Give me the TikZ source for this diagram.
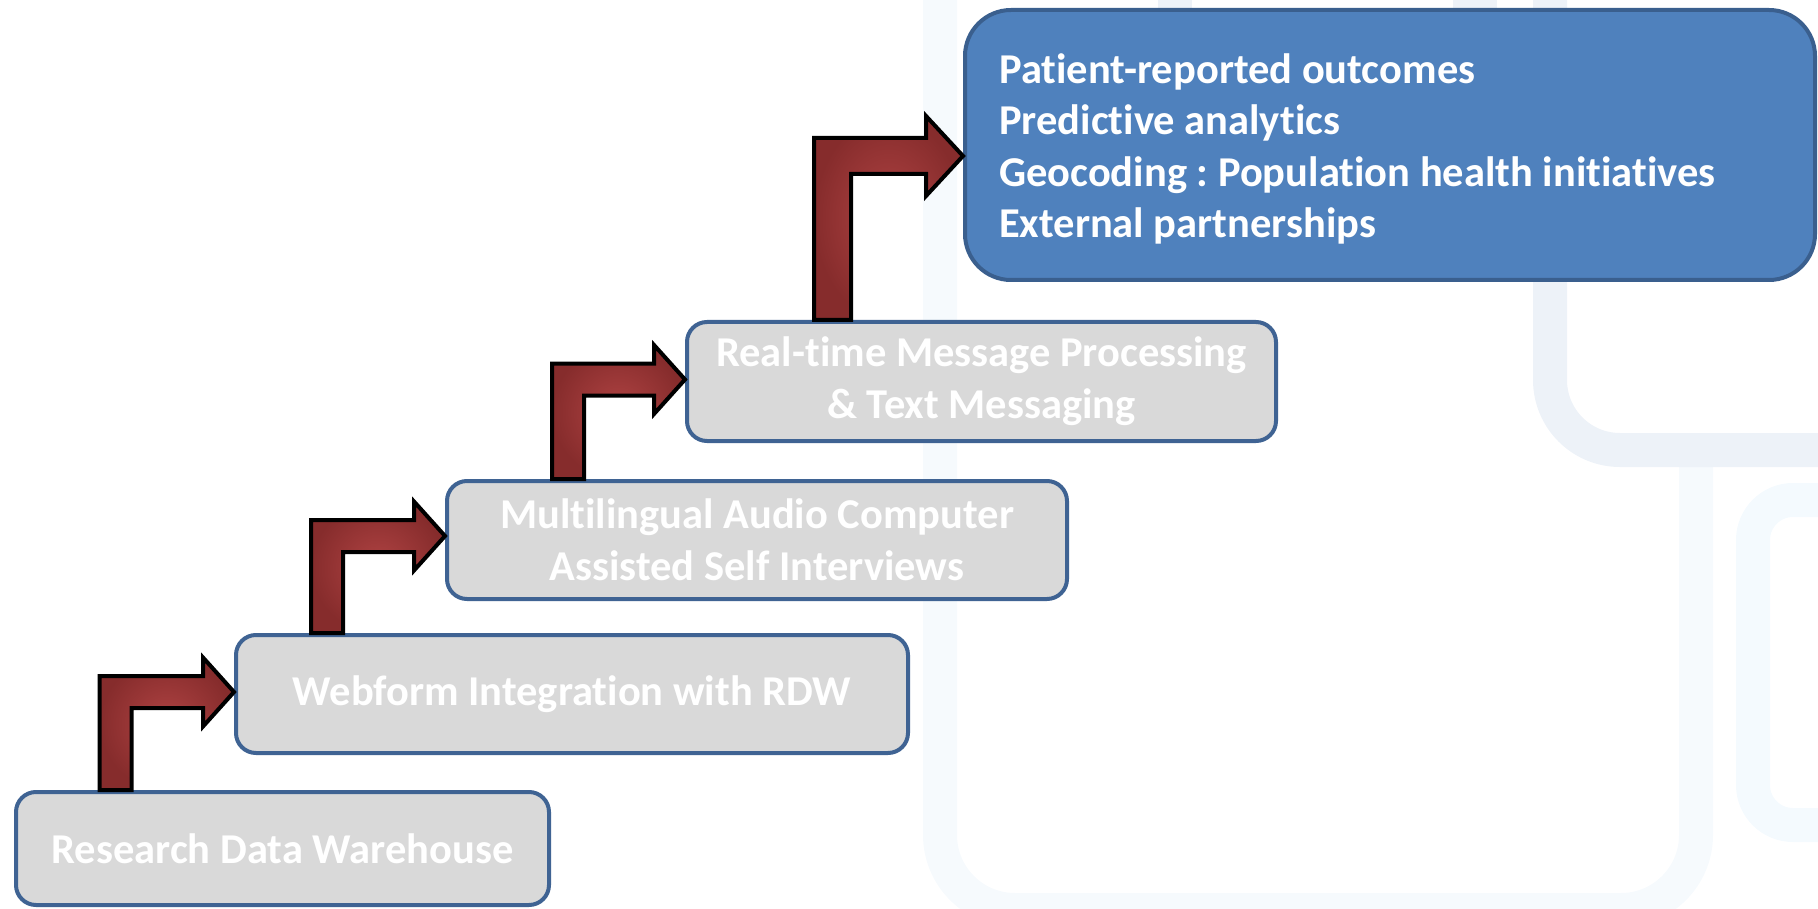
\documentclass[tikz,border=0pt]{standalone}
\usepackage{fontspec}
\setmainfont{Carlito}[Ligatures=NoCommon]
\usetikzlibrary{calc}
\frenchspacing

\definecolor{boxgray}{HTML}{D9D9D9}
\definecolor{boxedge}{HTML}{3F6393}
\definecolor{goalfill}{HTML}{4F81BD}
\definecolor{goaledge}{HTML}{3A5F8E}
\definecolor{arrowlight}{HTML}{B04343}
\definecolor{arrowdark}{HTML}{862C2C}
\definecolor{markA}{HTML}{F6FAFD}
\definecolor{markB}{HTML}{EDF2F8}
\definecolor{markC}{HTML}{F4FAFE}

\tikzset{
  stage/.style={draw=boxedge, fill=boxgray, line width=4pt, rounded corners=20pt,
    text=white, font=\fontsize{42.5}{52}\selectfont\bfseries, align=center, inner sep=0pt},
  goal/.style={draw=goaledge, fill=goalfill, line width=4pt, rounded corners=46pt},
  goaltext/.style={text=white, font=\fontsize{42.5}{51.5}\selectfont\bfseries,
    align=left, inner sep=0pt, anchor=west},
  stairarrow/.style={draw=black, line width=4pt, line join=miter, shade,
    shading=radial, inner color=arrowlight, outer color=arrowdark},
  watermark/.style={line width=34pt, rounded corners=75pt},
}

% bent arrow: #1 shaft foot (left edge), #2 tip, #3 shaft width,
% #4 half bar thickness, #5 half head height, #6 head length
\newcommand{\stairs}[6]{%
  \path[stairarrow] let \p1=(#1), \p2=(#2) in
    (\x1,\y1) -- (\x1,\y2+#4) -- (\x2-#6,\y2+#4) -- (\x2-#6,\y2+#5) -- (\x2,\y2)
    -- (\x2-#6,\y2-#5) -- (\x2-#6,\y2-#4) -- (\x1+#3,\y2-#4) -- (\x1+#3,\y1) -- cycle;
}

\begin{document}
\begin{tikzpicture}[x=1pt, y=-1pt]
  \useasboundingbox (0,0) rectangle (1818,909);

  % faint rounded frames in the background
  \draw[watermark, markA] (1696,467) -- (1696,910) -- (940,910) -- (940,-60);
  \draw[watermark, markB, rounded corners=70pt] (1550,-60) -- (1550,450) -- (1900,450);
  \draw[watermark, markC, rounded corners=40pt] (1900,500) -- (1753,500) -- (1753,825) -- (1900,825);
  \draw[markB, line width=34pt] (1175,-5) -- (1175,40);
  \draw[markB, line width=44pt] (1475,-5) -- (1475,40);

  % stages
  \node[stage, minimum width=533pt, minimum height=113pt] (rdw) at (282.5,848.5)
    {Research Data Warehouse};
  \node[stage, minimum width=672pt, minimum height=118pt] (web) at (572,694)
    {Webform Integration with RDW};
  \node[stage, minimum width=620pt, minimum height=118pt] (acasi) at (757,540)
    {Multilingual Audio Computer\\Assisted Self Interviews};
  \node[stage, minimum width=589pt, minimum height=119pt] (msg) at (981.5,381.5)
    {Real-time Message Processing\\\& Text Messaging};
  \node[goal, minimum width=850pt, minimum height=270pt] (goal) at (1390,145) {};
  \node[goaltext] (goallist) at ($(goal.west)+(36,4)$)
    {Patient-reported outcomes\\Predictive analytics\\Geocoding : Population health initiatives\\External partnerships};

  % arrow feet and tips
  \coordinate (f1) at ($(rdw.north west)+(85.6,0)$);
  \coordinate (t1) at ($(web.west)+(0,-2)$);
  \coordinate (f2) at ($(web.north west)+(77,0)$);
  \coordinate (t2) at ($(acasi.west)+(0,-4)$);
  \coordinate (f3) at ($(acasi.north west)+(107,0)$);
  \coordinate (t3) at ($(msg.west)+(0,-2)$);
  \coordinate (f4) at ($(msg.north west)+(129,0)$);
  \coordinate (t4) at ($(goal.west)+(0,11)$);

  \stairs{f1}{t1}{32pt}{16pt}{34.5pt}{31pt}
  \stairs{f2}{t2}{32pt}{16pt}{34.5pt}{31pt}
  \stairs{f3}{t3}{32pt}{16pt}{34.5pt}{31pt}
  \stairs{f4}{t4}{37pt}{18pt}{40pt}{37pt}
\end{tikzpicture}
\end{document}
